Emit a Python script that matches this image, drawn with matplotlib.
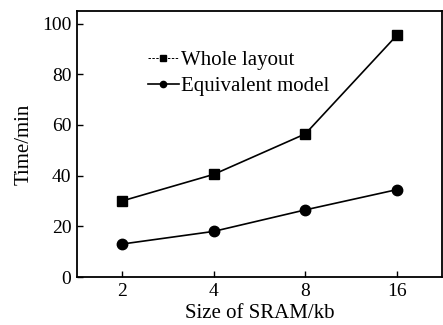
import numpy as np
import matplotlib.pyplot as plt

plt.rcParams['font.family'] = ['Liberation Serif', 'DejaVu Serif']

sizes = ['2', '4', '8', '16']
whole_layout = [30, 40.5, 56.5, 95.5]
equivalent_model = [13, 18, 26.5, 34.5]

fig = plt.figure(figsize=(4.43, 3.25), dpi=100)
ax = fig.add_axes([77/443, 48/325, 365/443, 266/325])

x = np.arange(len(sizes))
ax.plot(x, whole_layout, color='black', lw=1.2, marker='s', ms=7.5)
ax.plot(x, equivalent_model, color='black', lw=1.2, marker='o', ms=7.5)

# legend drawn as proxy handles so they look like the small ones in the figure
h1, = ax.plot([], [], color='black', lw=0.7, ls=(0, (2.5, 1.5)), marker='s', ms=4)
h2, = ax.plot([], [], color='black', lw=1.2, marker='o', ms=4.5)
ax.legend([h1, h2], ['Whole layout', 'Equivalent model'], loc='upper left',
          bbox_to_anchor=(0.165, 0.89), frameon=False, fontsize=15,
          handlelength=1.5, handletextpad=0.12, labelspacing=0.3, borderpad=0)

ax.set_xlim(-0.49, 3.49)
ax.set_ylim(0, 105)
ax.set_xticks(x)
ax.set_xticklabels(sizes)
ax.set_yticks([0, 20, 40, 60, 80, 100])
ax.tick_params(direction='in', labelsize=14, length=4, width=1, pad=4)
for s in ax.spines.values():
    s.set_linewidth(1.3)

ax.set_xlabel('Size of SRAM/kb', fontsize=15, labelpad=3)
ax.set_ylabel('Time/min', fontsize=15, labelpad=6)

fig.savefig('out.png', dpi=100)
